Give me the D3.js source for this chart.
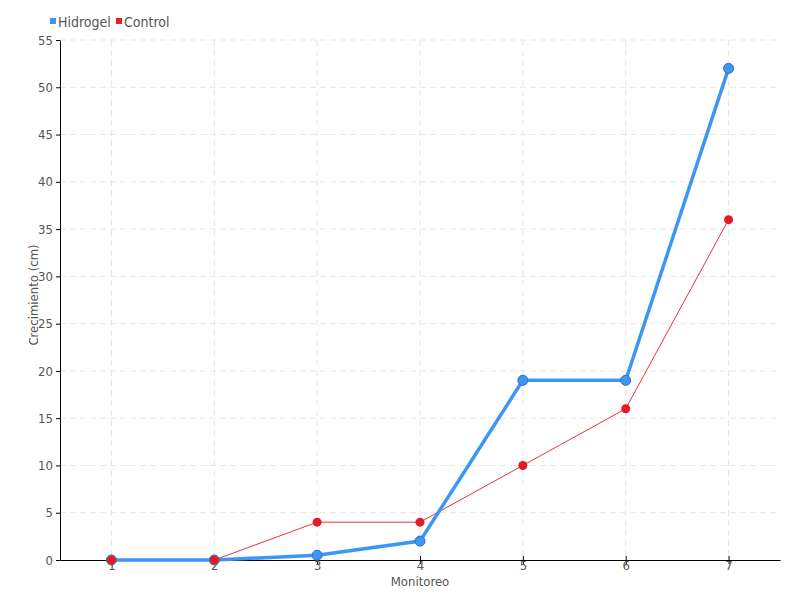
<!DOCTYPE html>
<html>
<head>
<meta charset="utf-8">
<script src="https://cdn.jsdelivr.net/npm/d3@7"></script>
<style>
  body { margin: 0; background: #fff; }
  svg text { font-family: "Liberation Sans Narrow", "DejaVu Sans Condensed", Roboto, sans-serif; fill: #555; }
</style>
</head>
<body>
<svg id="chart" width="800" height="600"></svg>
<script>
// Chart data
const monitoreo = [1, 2, 3, 4, 5, 6, 7];
const hidrogel = [0, 0, 0.5, 2, 19, 19, 52];
const control = [0, 0, 4, 4, 10, 16, 36];
const yTicks = [0, 5, 10, 15, 20, 25, 30, 35, 40, 45, 50, 55];

const margin = { top: 40, right: 20, bottom: 40, left: 60 };
const width = 800 - margin.left - margin.right;
const height = 600 - margin.top - margin.bottom;

const svg = d3.select("#chart");
const g = svg.append("g").attr("transform", `translate(${margin.left},${margin.top})`);

const x = d3.scalePoint().domain(monitoreo).range([0, width]).padding(0.5);
const y = d3.scaleLinear().domain([0, 55]).range([height, 0]);

// grid
g.append("g").selectAll("line").data(yTicks.slice(1)).enter().append("line")
  .attr("x1", 0).attr("x2", width)
  .attr("y1", d => y(d)).attr("y2", d => y(d))
  .attr("stroke", "#e6e6e6").attr("stroke-dasharray", "6,4");
g.append("g").selectAll("line").data(monitoreo).enter().append("line")
  .attr("x1", d => x(d)).attr("x2", d => x(d))
  .attr("y1", 0).attr("y2", height)
  .attr("stroke", "#e6e6e6").attr("stroke-dasharray", "6,4");

// axes
const yAxis = g.append("g").call(d3.axisLeft(y).tickValues(yTicks).tickSize(4).tickSizeOuter(0));
yAxis.select(".domain").attr("stroke", "#000");
yAxis.selectAll("text").attr("font-size", 13).attr("fill", "#555");

const xAxis = g.append("g").attr("transform", `translate(0,${height})`)
  .call(d3.axisBottom(x).tickSize(4).tickSizeOuter(0));
xAxis.select(".domain").attr("stroke", "#000");
xAxis.selectAll(".tick line").attr("y1", -4).attr("y2", 4);
xAxis.selectAll("text").attr("font-size", 13).attr("fill", "#555").attr("dy", "0.45em").attr("y", 4);

// axis titles
svg.append("text").attr("x", margin.left + width / 2).attr("y", 586)
  .attr("text-anchor", "middle").attr("font-size", 13).text("Monitoreo");
svg.append("text").attr("transform", `translate(38,${margin.top + height / 2 - 5}) rotate(-90)`)
  .attr("text-anchor", "middle").attr("font-size", 13).text("Crecimiento (cm)");

// lines
const line = d3.line().x((d, i) => x(monitoreo[i])).y(d => y(d));

g.append("path").datum(control).attr("d", line)
  .attr("fill", "none").attr("stroke", "#f0303a").attr("stroke-width", 1);
g.append("path").datum(hidrogel).attr("d", line)
  .attr("fill", "none").attr("stroke", "#3d96f5").attr("stroke-width", 3.5);

g.append("g").selectAll("circle").data(hidrogel).enter().append("circle")
  .attr("cx", (d, i) => x(monitoreo[i])).attr("cy", d => y(d)).attr("r", 5)
  .attr("fill", "#3d96f5").attr("stroke", "#2a6fc0").attr("stroke-width", 1);
g.append("g").selectAll("circle").data(control).enter().append("circle")
  .attr("cx", (d, i) => x(monitoreo[i])).attr("cy", d => y(d)).attr("r", 4.5)
  .attr("fill", "#e31b26");

// legend
const legend = [
  { name: "Hidrogel", color: "#3d96f5", x: 50 },
  { name: "Control", color: "#ee1c25", x: 116 }
];
legend.forEach(l => {
  svg.append("rect").attr("x", l.x).attr("y", 18).attr("width", 6).attr("height", 6).attr("fill", l.color);
  svg.append("text").attr("x", l.x + 8).attr("y", 27).attr("font-size", 14).text(l.name);
});
</script>
</body>
</html>
